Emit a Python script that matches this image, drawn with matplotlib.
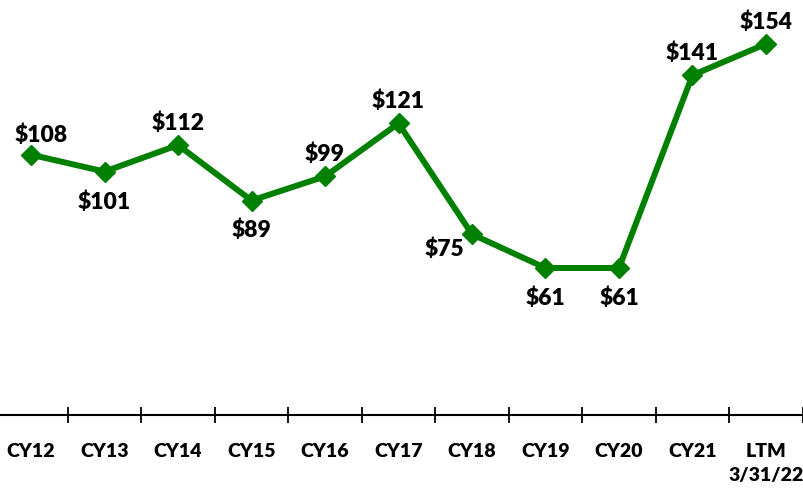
import matplotlib
matplotlib.use('Agg')
import matplotlib.pyplot as plt
from matplotlib.ticker import FixedLocator

CATEGORIES = ['CY12', 'CY13', 'CY14', 'CY15', 'CY16', 'CY17', 'CY18', 'CY19',
              'CY20', 'CY21', 'LTM\n3/31/22']
VALUES = [108, 101, 112, 89, 99, 121, 75, 61, 61, 141, 154]
LABEL_POS = ['above_right', 'below', 'above', 'below', 'above', 'above',
             'left', 'below', 'below', 'above', 'above']

GREEN = '#008000'

plt.rcParams['font.family'] = ['Lato', 'DejaVu Sans']


def main():
    fig = plt.figure(figsize=(8.04, 4.88), dpi=100)
    ax = fig.add_axes([-5.7 / 804, 73 / 488, 808.4 / 804, 385.6 / 488])

    x = list(range(len(VALUES)))
    ax.plot(x, VALUES, color=GREEN, linewidth=4.3, marker='D',
            markersize=10.5, markerfacecolor=GREEN, markeredgecolor=GREEN,
            solid_joinstyle='round')

    for xi, v, pos in zip(x, VALUES, LABEL_POS):
        if pos == 'above':
            off, ha, va = (0, 8), 'center', 'bottom'
        elif pos == 'above_right':
            off, ha, va = (7, 6), 'center', 'bottom'
        elif pos == 'below':
            off, ha, va = (0, -14), 'center', 'top'
        else:
            off, ha, va = (-6, -3), 'right', 'top'
        ax.annotate(f'${v}', (xi, v), xytext=off, textcoords='offset points',
                    ha=ha, va=va, fontsize=16.5, fontweight='heavy',
                    color='black')

    ax.set_xlim(-0.5, len(VALUES) - 0.5)
    ax.set_ylim(0, 160)

    for side in ['top', 'right', 'left']:
        ax.spines[side].set_visible(False)
    ax.spines['bottom'].set_linewidth(1.5)
    ax.set_yticks([])

    ax.set_xticks(x)
    ax.set_xticklabels(CATEGORIES, fontsize=14, fontweight='heavy',
                       linespacing=1.55)
    ax.tick_params(axis='x', which='major', length=0, pad=20)
    ax.xaxis.set_minor_locator(FixedLocator([i + 0.5 for i in x]))
    ax.tick_params(axis='x', which='minor', direction='inout', length=12,
                   width=1.3, color='black')

    fig.savefig('out.png', dpi=100)


if __name__ == '__main__':
    main()
